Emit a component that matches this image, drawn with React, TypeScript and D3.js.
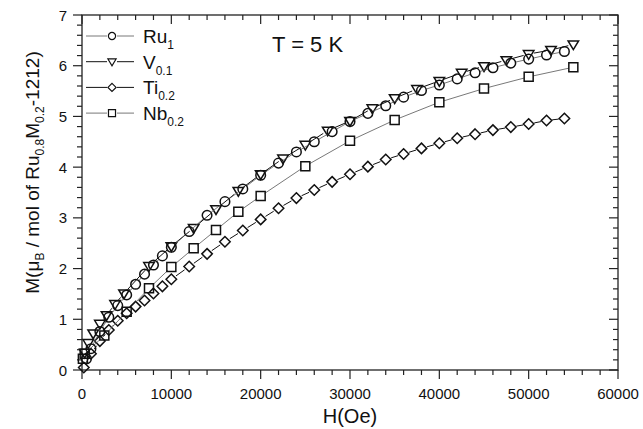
import React from "react";
import * as d3 from "d3";

const xTickLabels = ["0", "10000", "20000", "30000", "40000", "50000", "60000"];
const yTickLabels = ["0", "1", "2", "3", "4", "5", "6", "7"];

const ruH = [500, 1000, 2000, 3000, 4000, 5000, 6000, 7000, 8000, 9000, 10000, 12000, 14000, 16000, 18000, 20000, 22000, 24000, 26000, 28000, 30000, 32000, 34000, 36000, 38000, 40000, 42000, 44000, 46000, 48000, 50000, 52000, 54000];
const ruM = [0.22, 0.42, 0.76, 1.04, 1.27, 1.48, 1.69, 1.89, 2.07, 2.25, 2.42, 2.73, 3.05, 3.32, 3.57, 3.84, 4.08, 4.3, 4.5, 4.7, 4.9, 5.06, 5.21, 5.38, 5.51, 5.62, 5.74, 5.86, 5.96, 6.05, 6.13, 6.21, 6.28];

const vH = [300, 700, 1250, 2000, 2750, 3700, 4700, 7500, 10000, 12500, 15000, 17500, 20000, 22500, 25000, 27500, 30000, 32500, 35000, 37500, 40000, 42500, 45000, 47500, 50000, 52500, 55000];
const vM = [0.34, 0.53, 0.72, 0.91, 1.08, 1.3, 1.51, 2.05, 2.44, 2.8, 3.17, 3.53, 3.86, 4.17, 4.44, 4.72, 4.91, 5.16, 5.36, 5.54, 5.7, 5.86, 5.99, 6.11, 6.23, 6.31, 6.42];

const tiH = [200, 1000, 2000, 3000, 4000, 5000, 6000, 7000, 8000, 9000, 10000, 12000, 14000, 16000, 18000, 20000, 22000, 24000, 26000, 28000, 30000, 32000, 34000, 36000, 38000, 40000, 42000, 44000, 46000, 48000, 50000, 52000, 54000];
const tiM = [0.05, 0.32, 0.57, 0.79, 0.97, 1.12, 1.25, 1.37, 1.51, 1.65, 1.79, 2.04, 2.29, 2.53, 2.75, 2.97, 3.19, 3.39, 3.55, 3.71, 3.86, 4.01, 4.15, 4.26, 4.37, 4.47, 4.57, 4.65, 4.73, 4.79, 4.85, 4.92, 4.96];

const nbH = [100, 300, 2500, 5000, 7500, 10000, 12500, 15000, 17500, 20000, 25000, 30000, 35000, 40000, 45000, 50000, 55000];
const nbM = [0.22, 0.32, 0.68, 1.15, 1.61, 2.03, 2.4, 2.76, 3.12, 3.43, 4.02, 4.52, 4.93, 5.28, 5.55, 5.78, 5.97];

const W = 643;
const H = 429;
const x = d3.scaleLinear().domain([0, 60000]).range([82, 618]);
const y = d3.scaleLinear().domain([0, 7]).range([370, 15]);

type Shape = "circle" | "tri" | "diamond" | "square";

function markerPath(shape: Shape, cx: number, cy: number, s: number): string {
  if (shape === "circle") {
    const p = d3.path();
    p.arc(cx, cy, s, 0, Math.PI * 2);
    return p.toString();
  }
  if (shape === "tri") {
    const hw = s * 1.05;
    const h = s * 1.75;
    return `M${cx - hw},${cy - h * 0.4}L${cx + hw},${cy - h * 0.4}L${cx},${cy + h * 0.6}Z`;
  }
  if (shape === "diamond") {
    return `M${cx},${cy - s * 1.05}L${cx + s * 1.05},${cy}L${cx},${cy + s * 1.05}L${cx - s * 1.05},${cy}Z`;
  }
  const h = s * 0.9;
  return `M${cx - h},${cy - h}L${cx + h},${cy - h}L${cx + h},${cy + h}L${cx - h},${cy + h}Z`;
}

function gapSegments(hs: number[], ms: number[], gap: number): string {
  let d = "";
  for (let i = 0; i < hs.length - 1; i++) {
    const x1 = x(hs[i]), y1 = y(ms[i]);
    const x2 = x(hs[i + 1]), y2 = y(ms[i + 1]);
    const dx = x2 - x1, dy = y2 - y1;
    const len = Math.hypot(dx, dy);
    if (len <= 2 * gap + 0.5) continue;
    const ux = dx / len, uy = dy / len;
    d += `M${x1 + ux * gap},${y1 + uy * gap}L${x2 - ux * gap},${y2 - uy * gap}`;
  }
  return d;
}

const seriesDefs = [
  { name: "Ti", sub: "0.2", hs: tiH, ms: tiM, shape: "diamond" as Shape, line: "#111", lw: 1 },
  { name: "Nb", sub: "0.2", hs: nbH, ms: nbM, shape: "square" as Shape, line: "#555", lw: 0.8 },
  { name: "V", sub: "0.1", hs: vH, ms: vM, shape: "tri" as Shape, line: "#111", lw: 1 },
  { name: "Ru", sub: "1", hs: ruH, ms: ruM, shape: "circle" as Shape, line: "#555", lw: 0.8 },
];

const legendOrder = ["Ru", "V", "Ti", "Nb"];

export default function App() {
  const xMajor = d3.range(0, 60001, 10000);
  const xMinor = d3.range(0, 60001, 2000).filter((v) => v % 10000 !== 0);
  const yMajor = d3.range(0, 8, 1);
  const yMinor = d3.range(0, 35).map((i) => i * 0.2).filter((v, i) => i % 5 !== 0);
  const font = "'Liberation Sans', Arial, Helvetica, sans-serif";
  const axisColor = "#222";
  const x0 = x(0), x1 = x(60000), y0 = y(0), y1 = y(7);

  return (
    <svg width={W} height={H} style={{ position: "absolute", left: 0, top: 0, background: "#fff" }} fontFamily={font}>
      <rect x={0} y={0} width={W} height={H} fill="#fff" />
      <rect x={x0} y={y1} width={x1 - x0} height={y0 - y1} fill="none" stroke={axisColor} strokeWidth={1.3} />
      {xMajor.map((v) => (
        <line key={"bx" + v} x1={x(v)} x2={x(v)} y1={y0} y2={y0 + 9} stroke={axisColor} strokeWidth={1.2} />
      ))}
      {xMinor.map((v) => (
        <line key={"bxm" + v} x1={x(v)} x2={x(v)} y1={y0} y2={y0 + 5} stroke={axisColor} strokeWidth={1.2} />
      ))}
      {xMajor.map((v) => (
        <line key={"tx" + v} x1={x(v)} x2={x(v)} y1={y1} y2={y1 + 9} stroke={axisColor} strokeWidth={1.2} />
      ))}
      {xMinor.map((v) => (
        <line key={"txm" + v} x1={x(v)} x2={x(v)} y1={y1} y2={y1 + 5} stroke={axisColor} strokeWidth={1.2} />
      ))}
      {yMajor.map((v) => (
        <line key={"ly" + v} x1={x0 - 9} x2={x0} y1={y(v)} y2={y(v)} stroke={axisColor} strokeWidth={1.2} />
      ))}
      {yMinor.map((v) => (
        <line key={"lym" + v} x1={x0 - 5} x2={x0} y1={y(v)} y2={y(v)} stroke={axisColor} strokeWidth={1.2} />
      ))}
      {yMajor.map((v) => (
        <line key={"ry" + v} x1={x1 - 9} x2={x1} y1={y(v)} y2={y(v)} stroke={axisColor} strokeWidth={1.2} />
      ))}
      {yMinor.map((v) => (
        <line key={"rym" + v} x1={x1 - 5} x2={x1} y1={y(v)} y2={y(v)} stroke={axisColor} strokeWidth={1.2} />
      ))}
      {xMajor.map((v, i) => (
        <text key={"xl" + v} x={x(v)} y={399} textAnchor="middle" fontSize={15} fill="#111">
          {xTickLabels[i]}
        </text>
      ))}
      {yMajor.map((v, i) => (
        <text key={"yl" + v} x={x0 - 15} y={y(v) + 5.5} textAnchor="end" fontSize={15} fill="#111">
          {yTickLabels[i]}
        </text>
      ))}
      <text x={(x0 + x1) / 2} y={423} textAnchor="middle" fontSize={20} fill="#111">
        H(Oe)
      </text>
      <text transform={`translate(39,${(y0 + y1) / 2 - 20}) rotate(-90)`} textAnchor="middle" fontSize={19} fill="#111">
        M(μ<tspan fontSize={12} dy={5}>B</tspan>
        <tspan dy={-5}> / mol of Ru</tspan>
        <tspan fontSize={12} dy={5}>0.8</tspan>
        <tspan dy={-5}>M</tspan>
        <tspan fontSize={12} dy={5}>0.2</tspan>
        <tspan dy={-5}>-1212)</tspan>
      </text>
      <text x={272} y={52} fontSize={22} fill="#111">
        T = 5 K
      </text>
      {seriesDefs.map((s) => {
        const gap = s.shape === "circle" ? 5.2 : s.shape === "tri" ? 5.2 : s.shape === "diamond" ? 5.7 : 4.8;
        return (
          <g key={s.name}>
            <path d={gapSegments(s.hs, s.ms, gap)} stroke={s.line} strokeWidth={s.lw} fill="none" />
            {s.hs.map((h, i) => (
              <path
                key={i}
                d={markerPath(s.shape, x(h), y(s.ms[i]), s.shape === "circle" ? 4.8 : 5)}
                fill="none"
                stroke="#111"
                strokeWidth={1.5}
              />
            ))}
          </g>
        );
      })}
      {legendOrder.map((nm, i) => {
        const s = seriesDefs.find((d) => d.name === nm)!;
        const ry = 36 + i * 25.7;
        return (
          <g key={"lg" + nm}>
            <line x1={86} x2={107} y1={ry} y2={ry} stroke={s.line} strokeWidth={s.lw} />
            <line x1={117} x2={134} y1={ry} y2={ry} stroke={s.line} strokeWidth={s.lw} />
            <path d={markerPath(s.shape, 112, ry, s.shape === "circle" ? 3.6 : 3.9)} fill="#fff" stroke="#111" strokeWidth={1.2} />
            <text x={143} y={ry + 7} fontSize={19} fill="#111">
              {s.name}
              <tspan fontSize={12} dy={6}>{s.sub}</tspan>
            </text>
          </g>
        );
      })}
    </svg>
  );
}
